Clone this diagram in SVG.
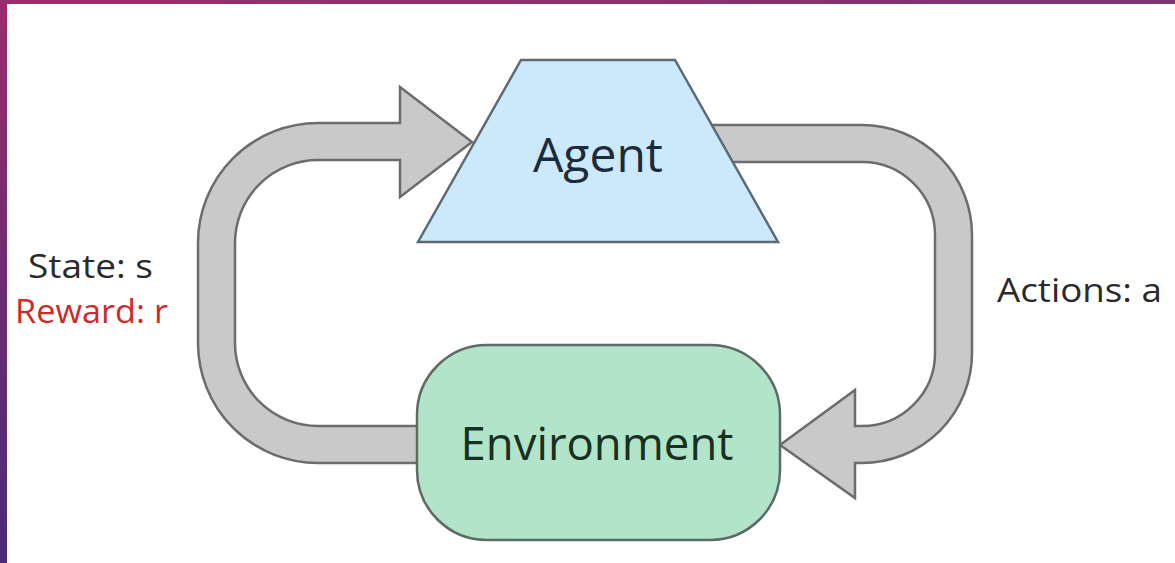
<svg xmlns="http://www.w3.org/2000/svg" width="1175" height="563" viewBox="0 0 1175 563">
  <defs>
    <linearGradient id="gTop" x1="0" y1="0" x2="1" y2="0">
      <stop offset="0" stop-color="#9a2d6b"/>
      <stop offset="0.5" stop-color="#8f2f70"/>
      <stop offset="1" stop-color="#7d3479"/>
    </linearGradient>
    <linearGradient id="gLeft" x1="0" y1="0" x2="0" y2="1">
      <stop offset="0" stop-color="#9a2d6b"/>
      <stop offset="0.5" stop-color="#6e2c72"/>
      <stop offset="1" stop-color="#4a2a7a"/>
    </linearGradient>
    <style>
      .arrow { fill: #c9c9c9; stroke: #6c6c6c; stroke-width: 2.5; stroke-linejoin: miter; }
      .label { font-family: "Open Sans", "Liberation Sans", sans-serif; }
      .node-text { font-family: "Open Sans", "Liberation Sans", sans-serif; text-anchor: middle; }
    </style>
  </defs>

  <rect x="0" y="0" width="1175" height="563" fill="#ffffff"/>
  <rect x="0" y="0" width="1175" height="4" fill="url(#gTop)"/>
  <rect x="0" y="0" width="7" height="563" fill="url(#gLeft)"/>

  <g id="connectors">
    <path id="state-reward-arrow" class="arrow" d="M430,463 H318 A120,120 0 0 1 198,343 V243 A120,120 0 0 1 318,123 H400 V87 L472,142 L400,197 V160 H318 A83,83 0 0 0 235,243 V343 A83,83 0 0 0 318,426 H430 Z"/>
    <path id="action-arrow" class="arrow" d="M700,125 H862 A110,110 0 0 1 972,235 V353 A110,110 0 0 1 862,463 H855 V498 L780,445 L855,390 V426 H862 A73,73 0 0 0 935,353 V235 A73,73 0 0 0 862,162 H700 Z"/>
  </g>

  <g id="agent">
    <polygon points="521,60 675,60 778,242 418,242" fill="#cce9fb" stroke="#5b6a74" stroke-width="2.5" stroke-linejoin="miter"/>
    <text class="node-text" x="598" y="172" font-size="47" fill="#1c2a3a" textLength="130" lengthAdjust="spacingAndGlyphs">Agent</text>
  </g>

  <g id="environment">
    <rect x="417" y="345" width="363" height="195" rx="70" ry="70" fill="#b2e4c9" stroke="#5e6b64" stroke-width="2.5"/>
    <text class="node-text" x="597" y="460" font-size="45" fill="#17301f" textLength="273" lengthAdjust="spacingAndGlyphs">Environment</text>
  </g>

  <g id="labels">
    <text class="label" x="28" y="278" font-size="33" fill="#2a2a2a" textLength="125" lengthAdjust="spacingAndGlyphs">State: s</text>
    <text class="label" x="15" y="323" font-size="33" fill="#cc2b2b" textLength="153" lengthAdjust="spacingAndGlyphs">Reward: r</text>
    <text class="label" x="997" y="302" font-size="33" fill="#2a2a2a" textLength="165" lengthAdjust="spacingAndGlyphs">Actions: a</text>
  </g>
</svg>
